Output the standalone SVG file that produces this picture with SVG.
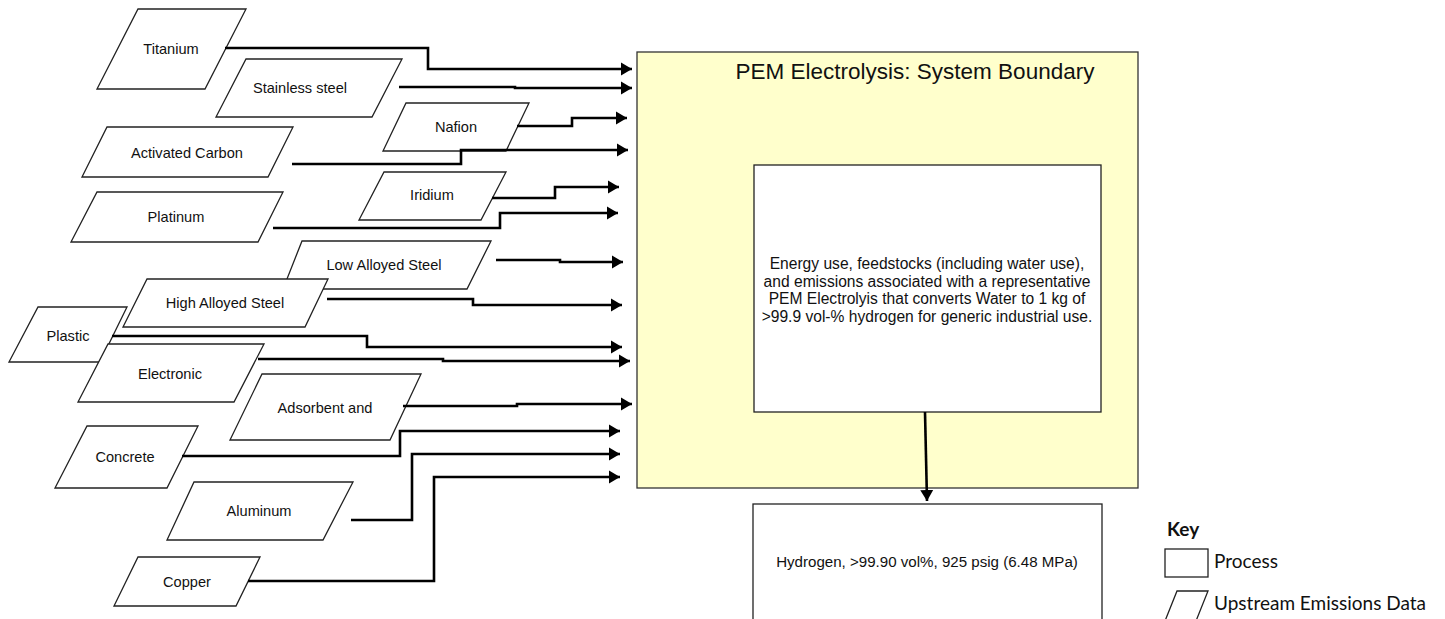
<svg xmlns="http://www.w3.org/2000/svg" width="1445" height="619" viewBox="0 0 1445 619">
<style>
  .para { fill: #ffffff; stroke: #222; stroke-width: 1.3; }
  .lbl { font-family: "Liberation Sans", Arial, sans-serif; font-size: 14.6px; fill: #111; text-anchor: middle; }
  .inner { font-family: "Liberation Sans", Arial, sans-serif; font-size: 15.6px; fill: #111; text-anchor: middle; }
  .box { fill: #ffffff; stroke: #222; stroke-width: 1.3; }
  .conn { fill: none; stroke: #000; stroke-width: 2.6; }
  .key { font-family: Lato, "Liberation Sans", sans-serif; font-size: 19px; fill: #111; }
</style>
<defs>
  <marker id="arr" markerUnits="userSpaceOnUse" markerWidth="12" markerHeight="15" refX="11" refY="7.5" orient="auto">
    <path d="M0,1 L11,7.5 L0,14 z" fill="#000"/>
  </marker>
</defs>
<rect width="1445" height="619" fill="#ffffff"/>

<g id="boundary">
  <rect x="637" y="52" width="501" height="436" fill="#FFFFCC" stroke="#333" stroke-width="1.3"/>
  <text x="915" y="79" font-family="Liberation Sans, Arial, sans-serif" font-size="22.5px" fill="#111" text-anchor="middle">PEM Electrolysis: System Boundary</text>
</g>

<g id="process">
  <rect class="box" x="754" y="165" width="347" height="247"/>
  <text class="inner" x="927" y="269">Energy use, feedstocks (including water use),</text>
  <text class="inner" x="927" y="287">and emissions associated with a representative</text>
  <text class="inner" x="927" y="304">PEM Electrolyis that converts Water to 1 kg of</text>
  <text class="inner" x="927" y="322">&gt;99.9 vol-% hydrogen for generic industrial use.</text>
</g>

<g id="hydrogen">
  <rect class="box" x="753" y="504" width="349" height="120"/>
  <text class="inner" x="927" y="567" style="font-size:15.1px">Hydrogen, &gt;99.90 vol%, 925 psig (6.48 MPa)</text>
</g>

<g id="titanium">
  <polygon class="para" points="138,9 246,9 205,89 97,89"/>
  <text class="lbl" x="171" y="54">Titanium</text>
</g>
<g id="stainless-steel">
  <polygon class="para" points="246,59 402,59 372,117 216,117"/>
  <text class="lbl" x="300" y="93">Stainless steel</text>
</g>
<g id="activated-carbon">
  <polygon class="para" points="107,127 293,127 268,177 82,177"/>
  <text class="lbl" x="187" y="158">Activated Carbon</text>
</g>
<g id="platinum">
  <polygon class="para" points="97,192 283,192 258,242 71,242"/>
  <text class="lbl" x="176" y="222">Platinum</text>
</g>
<g id="nafion">
  <polygon class="para" points="406,103 529,103 506,151 383,151"/>
  <text class="lbl" x="456" y="132">Nafion</text>
</g>
<g id="iridium">
  <polygon class="para" points="384,172 506,172 481,220 359,220"/>
  <text class="lbl" x="432" y="200">Iridium</text>
</g>
<g id="low-alloyed-steel">
  <polygon class="para" points="302,241 491,241 467,289 283,289"/>
  <text class="lbl" x="384" y="270">Low Alloyed Steel</text>
</g>
<g id="plastic">
  <polygon class="para" points="38,307 127,307 100,362 9,362"/>
  <text class="lbl" x="68" y="341">Plastic</text>
</g>
<g id="high-alloyed-steel">
  <polygon class="para" points="147,279 328,279 305,327 123,327"/>
  <text class="lbl" x="225" y="308">High Alloyed Steel</text>
</g>
<g id="electronic">
  <polygon class="para" points="108,344 264,344 234,402 78,402"/>
  <text class="lbl" x="170" y="379">Electronic</text>
</g>
<g id="adsorbent">
  <polygon class="para" points="262,374 421,374 390,440 230,440"/>
  <text class="lbl" x="325" y="413">Adsorbent and</text>
</g>
<g id="concrete">
  <polygon class="para" points="87,426 198,426 167,488 55,488"/>
  <text class="lbl" x="125" y="462">Concrete</text>
</g>
<g id="aluminum">
  <polygon class="para" points="194,482 353,482 323,540 167,540"/>
  <text class="lbl" x="259" y="516">Aluminum</text>
</g>
<g id="copper">
  <polygon class="para" points="138,557 260,557 236,606 114,606"/>
  <text class="lbl" x="187" y="587">Copper</text>
</g>

<g id="connectors">
  <path class="conn" marker-end="url(#arr)" d="M225,48 H428 V69 H632"/>
  <path class="conn" marker-end="url(#arr)" d="M399,87 H515 V88 H632"/>
  <path class="conn" marker-end="url(#arr)" d="M292,164 H461 V150 H628"/>
  <path class="conn" marker-end="url(#arr)" d="M273,228 H500 V213 H618"/>
  <path class="conn" marker-end="url(#arr)" d="M517,126 H572 V118 H627"/>
  <path class="conn" marker-end="url(#arr)" d="M492,198 H555 V187 H619"/>
  <path class="conn" marker-end="url(#arr)" d="M496,260 H560 V262 H623"/>
  <path class="conn" marker-end="url(#arr)" d="M327,299 H473 V305 H622"/>
  <path class="conn" marker-end="url(#arr)" d="M112,336 H367 V347 H622"/>
  <path class="conn" marker-end="url(#arr)" d="M258,359 H443 V361 H630"/>
  <path class="conn" marker-end="url(#arr)" d="M403,406 H517 V404 H632"/>
  <path class="conn" marker-end="url(#arr)" d="M182,456 H400 V431 H620"/>
  <path class="conn" marker-end="url(#arr)" d="M351,520 H412 V454 H620"/>
  <path class="conn" marker-end="url(#arr)" d="M248,581 H434 V477 H620"/>
  <path class="conn" marker-end="url(#arr)" d="M925,412 L927,501"/>
</g>

<g id="key">
  <text class="key" x="1167" y="536" font-weight="bold">Key</text>
  <rect x="1165" y="549" width="43" height="28" fill="#fff" stroke="#222" stroke-width="1.3"/>
  <text class="key" x="1214" y="568">Process</text>
  <polygon points="1177,591 1208,591 1196,621 1165,621" fill="#fff" stroke="#222" stroke-width="1.3"/>
  <text class="key" x="1214" y="610">Upstream Emissions Data</text>
</g>
</svg>
